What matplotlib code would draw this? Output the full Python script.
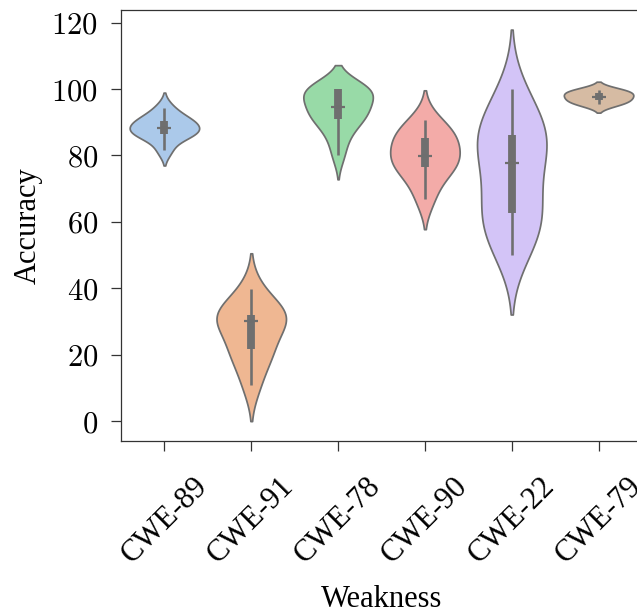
import matplotlib
matplotlib.use("Agg")
import matplotlib.pyplot as plt
from matplotlib.ticker import FuncFormatter
import seaborn as sns
import pandas as pd

categories = ["CWE-89", "CWE-91", "CWE-78", "CWE-90", "CWE-22", "CWE-79"]
cwe89 = [81.5, 85.5, 86.5, 86.6, 87.8, 88.6, 90.0, 90.5, 91.5, 94.4]
cwe91 = [10.8, 18.0, 21.5, 22.7, 29.8, 30.6, 31.5, 32.0, 33.5, 39.7]
cwe78 = [80.0, 85.0, 88.0, 90.5, 91.5, 92.5, 93.5, 94.6, 96.0, 98.0,
         100.0, 100.0, 100.0, 100.0, 100.0]
cwe90 = [66.8, 73.0, 76.0, 78.0, 79.5, 80.3, 85.0, 85.4, 87.0, 90.6]
cwe22 = [50.0, 54.0, 58.0, 62.0, 63.2, 66.0, 72.0, 77.7, 80.0, 83.0,
         86.0, 86.6, 90.0, 94.0, 100.0]
cwe79 = [95.4, 96.6, 97.7, 98.9, 99.7]
series = [cwe89, cwe91, cwe78, cwe90, cwe22, cwe79]
yticks = [0, 20, 40, 60, 80, 100, 120]

rows = []
for cat, vals in zip(categories, series):
    for v in vals:
        rows.append({"Weakness": cat, "Accuracy": v})
df = pd.DataFrame(rows)

plt.rcParams["font.family"] = ["Liberation Serif", "DejaVu Serif"]
plt.rcParams["mathtext.fontset"] = "cm"

fig = plt.figure(figsize=(6.37, 6.12), dpi=100)
ax = fig.add_axes([121/637, 1 - 440.7/612, (642-121)/637, (440.7-10)/612])
sns.violinplot(data=df, x="Weakness", y="Accuracy", hue="Weakness",
               palette="pastel", density_norm="width", inner="box",
               legend=False, ax=ax, order=categories)

gray = "#6e6e6e"
for ln in ax.lines:
    ln.set_solid_capstyle("butt")
    if ln.get_marker() in ("_", "|"):
        ln.set_color(gray)
        ln.set_markeredgecolor(gray)
        ln.set_markerfacecolor(gray)
        ln.set_markersize(10)
        ln.set_markeredgewidth(1.6)

for sp in ax.spines.values():
    sp.set_color("#333333")
    sp.set_linewidth(0.9)
ax.tick_params(axis="both", length=7.5, width=0.9, color="#333333")
ax.set_yticks(yticks)
ax.yaxis.set_major_formatter(FuncFormatter(lambda v, p: f"${v:g}$"))
ax.tick_params(axis="y", labelsize=22, pad=9)
ax.tick_params(axis="x", labelsize=22, pad=15)
for lab in ax.get_xticklabels():
    lab.set_rotation(45)
    lab.set_ha("center")
ax.set_xlabel("Weakness", fontsize=22, labelpad=11)
ax.set_ylabel("Accuracy", fontsize=22, labelpad=6)

fig.savefig("out.png", dpi=100)
